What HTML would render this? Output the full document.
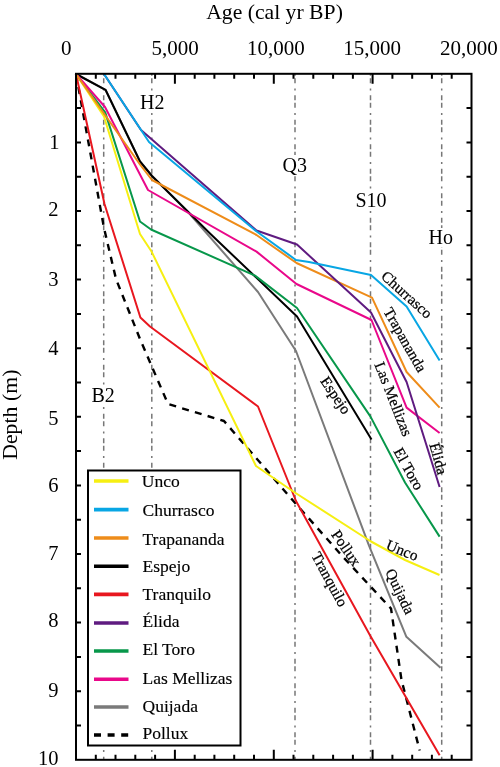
<!DOCTYPE html>
<html><head><meta charset="utf-8">
<style>
html,body{margin:0;padding:0;background:#fff;}
svg{display:block;will-change:transform;}
text{font-family:"Liberation Serif",serif;fill:#000;}
.sl text{stroke:#000;stroke-width:0.25px;}
</style></head>
<body>
<svg width="500" height="767" viewBox="0 0 500 767">
<!-- axis titles -->
<text x="274.5" y="18.5" font-size="21.7" text-anchor="middle">Age (cal yr BP)</text>
<text x="66.2" y="55" font-size="21" text-anchor="middle">0</text>
<text x="175.2" y="55" font-size="21" text-anchor="middle">5,000</text>
<text x="275.8" y="55" font-size="21" text-anchor="middle">10,000</text>
<text x="372.2" y="55" font-size="21" text-anchor="middle">15,000</text>
<text x="468.9" y="55" font-size="21" text-anchor="middle">20,000</text>
<text transform="translate(17.3,414.7) rotate(-90)" font-size="21.8" text-anchor="middle">Depth (m)</text>
<g font-size="20.5" text-anchor="end">
<text x="59.5" y="149.1">1</text>
<text x="58.6" y="215.5">2</text>
<text x="58.6" y="286">3</text>
<text x="58.6" y="355.3">4</text>
<text x="58.6" y="424.5">5</text>
<text x="58.6" y="491.8">6</text>
<text x="58.6" y="560.2">7</text>
<text x="58.6" y="627.4">8</text>
<text x="58.6" y="697.1">9</text>
<text x="58.6" y="765.1">10</text>
</g>

<!-- dash-dot reference lines -->
<g stroke="#777" stroke-width="1.5" stroke-dasharray="2 4.9 5 2.4 5.1 5.1" stroke-dashoffset="10.1" fill="none">
<line x1="103.7" y1="74" x2="103.7" y2="759"/>
<line x1="151.8" y1="74" x2="151.8" y2="759"/>
<line x1="295" y1="74" x2="295" y2="759"/>
<line x1="370.5" y1="74" x2="370.5" y2="759"/>
<line x1="441.7" y1="74" x2="441.7" y2="759"/>
</g>

<!-- series -->
<g fill="none" stroke-width="2" stroke-linejoin="round" stroke-linecap="butt">
<polyline id="s-pollux" stroke="#000" stroke-width="2.4" stroke-dasharray="7 6.3" points="76,74 104,228 116,279 140,339 168,404 224,421 296,504 344,558 391,608.5 401.5,680 419.7,750.5"/>
<polyline id="s-gray" stroke="#7a7a7a" points="76,74 105.5,89.8 140,161.5 152,176 188,212 258,292 296,351 369,545.6 406.4,636.8 440.5,667.8"/>
<polyline id="s-espejo" stroke="#000" points="76,74 105.5,89.8 140,161.5 152,176 210,233.5 297,316.5 371.5,439.5"/>
<polyline id="s-tranquilo" stroke="#e8171f" points="76,74 104.5,204 140.4,317.5 150,326.5 258,406.5 296,501 370.4,636 439.6,755.2"/>
<polyline id="s-unco" stroke="#f6ef12" points="76,74 104,116.5 140,234 151.5,251.5 256,466 294,492 371,541.5 405,560 439.5,575"/>
<polyline id="s-eltoro" stroke="#07974a" points="76,74 105.2,112.4 140,221.5 151,229.5 255,275.6 297,308 370.5,416.6 405,482.5 439.6,536.6"/>
<polyline id="s-mellizas" stroke="#e9088a" points="76,74 105,107 148,190 256.5,251.6 296.5,284 371.5,320 406.6,407.6 439.6,433"/>
<polyline id="s-trapananda" stroke="#ee8c1a" points="76,74 105,115 140,164.5 152,180 256.5,235 296.5,263 372,297.6 406.6,372 439.6,407.6"/>
<polyline id="s-elida" stroke="#5f1b80" points="104,74 141,130 256.5,230.5 297,244.5 371,312.5 406.6,382 439.6,487"/>
<polyline id="s-churrasco" stroke="#08a6e4" points="104,74 149,142 256,231 296,260 309,262 371,275 406.6,306.6 439.6,360.6"/>
</g>

<!-- frame -->
<g stroke="#000" stroke-width="2" fill="none">
<rect x="76" y="73.8" width="395.5" height="686"/>
</g>
<path stroke="#000" stroke-width="2" fill="none" d="M95.8 73.8v5M95.8 759.8v-5M115.5 73.8v5M115.5 759.8v-5M135.3 73.8v5M135.3 759.8v-5M155.1 73.8v5M155.1 759.8v-5M174.9 73.8v10M174.9 759.8v-10M194.7 73.8v5M194.7 759.8v-5M214.4 73.8v5M214.4 759.8v-5M234.2 73.8v5M234.2 759.8v-5M254.0 73.8v5M254.0 759.8v-5M273.8 73.8v10M273.8 759.8v-10M293.5 73.8v5M293.5 759.8v-5M313.3 73.8v5M313.3 759.8v-5M333.1 73.8v5M333.1 759.8v-5M352.9 73.8v5M352.9 759.8v-5M372.6 73.8v10M372.6 759.8v-10M392.4 73.8v5M392.4 759.8v-5M412.2 73.8v5M412.2 759.8v-5M431.9 73.8v5M431.9 759.8v-5M451.7 73.8v5M451.7 759.8v-5M76 108.1h5M471.5 108.1h-5M76 142.4h5M471.5 142.4h-5M76 176.7h5M471.5 176.7h-5M76 211.0h5M471.5 211.0h-5M76 245.3h5M471.5 245.3h-5M76 279.6h5M471.5 279.6h-5M76 313.9h5M471.5 313.9h-5M76 348.2h5M471.5 348.2h-5M76 382.5h5M471.5 382.5h-5M76 416.8h5M471.5 416.8h-5M76 451.1h5M471.5 451.1h-5M76 485.4h5M471.5 485.4h-5M76 519.7h5M471.5 519.7h-5M76 554.0h5M471.5 554.0h-5M76 588.3h5M471.5 588.3h-5M76 622.6h5M471.5 622.6h-5M76 656.9h5M471.5 656.9h-5M76 691.2h5M471.5 691.2h-5M76 725.5h5M471.5 725.5h-5"/>

<!-- event labels -->
<g font-size="20">
<rect x="139" y="93" width="27" height="19" fill="#fff"/>
<text x="140" y="109">H2</text>
<rect x="282" y="155" width="26" height="19" fill="#fff"/>
<text x="282.5" y="171.5">Q3</text>
<rect x="355" y="191" width="34" height="19" fill="#fff"/>
<text x="355.5" y="207">S10</text>
<rect x="427" y="228" width="28" height="19" fill="#fff"/>
<text x="428.5" y="243.5">Ho</text>
<rect x="91" y="386" width="25" height="19" fill="#fff"/>
<text x="91.5" y="402">B2</text>
</g>

<!-- series labels -->
<g class="sl">
<text transform="translate(403.5,298.5) rotate(42)" font-size="15.25" text-anchor="middle">Churrasco</text>
<text transform="translate(400.7,342.4) rotate(60.5)" font-size="15.25" text-anchor="middle">Trapananda</text>
<text transform="translate(388.7,400.9) rotate(68.5)" font-size="15.25" text-anchor="middle">Las Mellizas</text>
<text transform="translate(433.6,459.9) rotate(74.5)" font-size="15.25" text-anchor="middle">Élida</text>
<text transform="translate(404.4,471.3) rotate(61)" font-size="15.25" text-anchor="middle">El Toro</text>
<text transform="translate(331.5,398.2) rotate(55.5)" font-size="15.25" text-anchor="middle">Espejo</text>
<text transform="translate(400.4,555.0) rotate(22)" font-size="15.25" text-anchor="middle">Unco</text>
<text transform="translate(342.0,550.8) rotate(55.5)" font-size="15.25" text-anchor="middle">Pollux</text>
<text transform="translate(325.2,581.8) rotate(61.5)" font-size="15.25" text-anchor="middle">Tranquilo</text>
<text transform="translate(395.4,593.6) rotate(64.5)" font-size="15.25" text-anchor="middle">Quijada</text>
</g>

<!-- legend -->
<rect x="88" y="470.5" width="152.5" height="275" fill="#fff" stroke="#000" stroke-width="2"/>
<g stroke-width="3.6" fill="none">
<line x1="94" y1="481" x2="128.5" y2="481" stroke="#f6ef12"/>
<line x1="94" y1="509.6" x2="128.5" y2="509.6" stroke="#08a6e4"/>
<line x1="94" y1="538" x2="128.5" y2="538" stroke="#ee8c1a"/>
<line x1="94" y1="566.2" x2="128.5" y2="566.2" stroke="#000"/>
<line x1="94" y1="594.4" x2="128.5" y2="594.4" stroke="#e8171f"/>
<line x1="94" y1="623" x2="128.5" y2="623" stroke="#5f1b80"/>
<line x1="94" y1="651" x2="128.5" y2="651" stroke="#07974a"/>
<line x1="94" y1="679.2" x2="128.5" y2="679.2" stroke="#e9088a"/>
<line x1="94" y1="707" x2="128.5" y2="707" stroke="#7a7a7a"/>
<line x1="94" y1="735" x2="128.5" y2="735" stroke="#000" stroke-dasharray="7 6.6"/>
</g>
<g font-size="17.5" stroke="#000" stroke-width="0.15">
<text x="141.8" y="487.4">Unco</text>
<text x="142.5" y="515.6">Churrasco</text>
<text x="142.5" y="544.8">Trapananda</text>
<text x="142.5" y="571.8">Espejo</text>
<text x="142.5" y="599.8">Tranquilo</text>
<text x="142.5" y="626.8">Élida</text>
<text x="142.5" y="654.7">El Toro</text>
<text x="142.5" y="684.2">Las Mellizas</text>
<text x="142.5" y="711.8">Quijada</text>
<text x="142.5" y="739.2">Pollux</text>
</g>

</svg>
</body></html>
